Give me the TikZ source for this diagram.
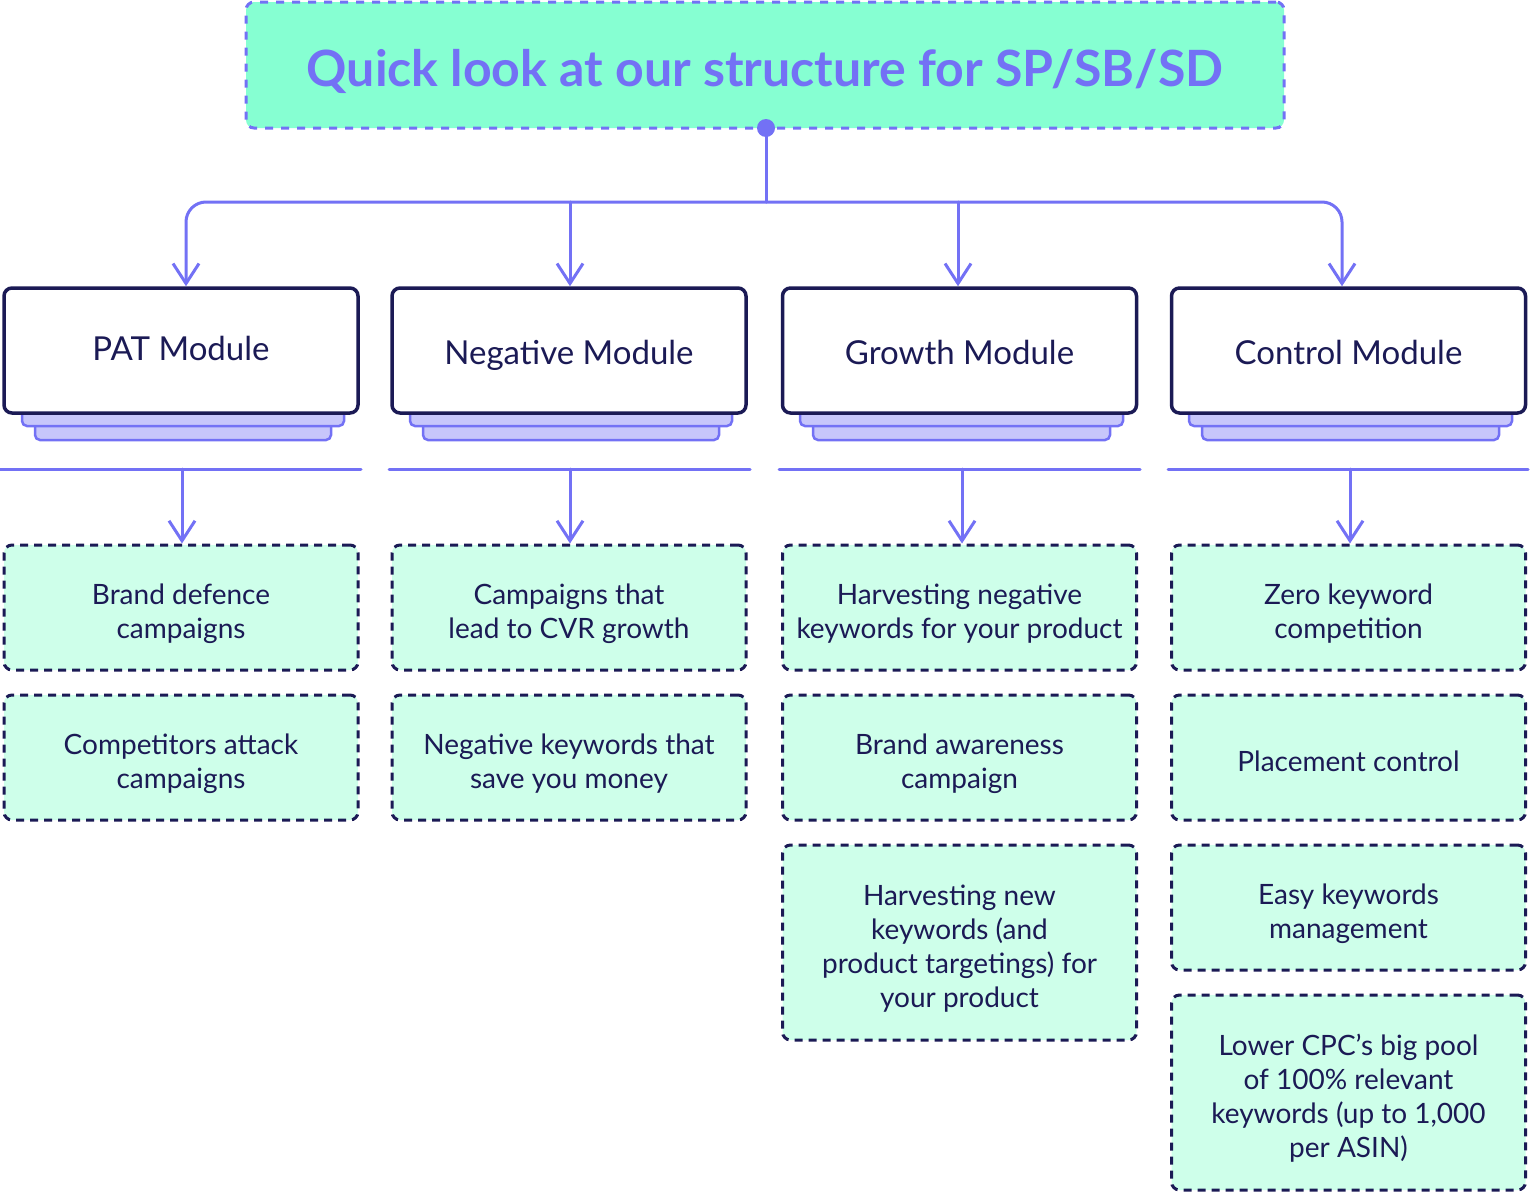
\documentclass[tikz,border=0pt]{standalone}
\usepackage{fontspec}
\setmainfont{Lato}
\usetikzlibrary{arrows.meta,calc}
\definecolor{violetc}{HTML}{7371F5}
\definecolor{mintc}{HTML}{86FFD2}
\definecolor{lmintc}{HTML}{CEFFEA}
\definecolor{navyc}{HTML}{1B1A55}
\definecolor{lavc}{HTML}{C7C6FB}
\newcommand\itop{\rule{0pt}{35pt}}
\newcommand\ibot{\rule[-7pt]{0pt}{7pt}}
\tikzset{
  titlebox/.style={rectangle, rounded corners=8pt, fill=mintc, draw=violetc, line width=3pt, dash pattern=on 8pt off 8pt, minimum width=1038pt, minimum height=126pt, inner sep=0pt, text=violetc, text height=50pt, text depth=8pt, font=\bfseries\fontsize{50}{60}\selectfont},
  modbox/.style={rectangle, draw=navyc, line width=3.5pt, rounded corners=8pt, fill=white, minimum width=354pt, minimum height=125pt, inner sep=0pt, text=navyc, text height=31pt, text depth=4pt, font=\fontsize{33}{38}\selectfont},
  itembox/.style={rectangle, draw=navyc, fill=lmintc, line width=3pt, dash pattern=on 8pt off 6pt, rounded corners=8pt, minimum width=354pt, inner sep=0pt, align=center, text=navyc, font=\fontsize{28}{34}\selectfont},
  plate/.style={draw=violetc, fill=lavc, line width=2.5pt, rounded corners=5pt},
  conn/.style={draw=violetc, line width=3pt, line cap=round},
  tip/.tip={Straight Barb[length=20pt,width=26pt,line width=3pt]},
}
\begin{document}
\begin{tikzpicture}[x=1pt,y=-1pt]
\useasboundingbox (0,0) rectangle (1530,1194);
% title
\node[titlebox] (title) at (765,65) {Quick look at our structure for SP/SB/SD};
% plates
\foreach \xa/\xb in {4/358,392/746,782/1137,1171/1526}{
  \draw[plate] (\xa+31,410) rectangle (\xb-27,440);
  \draw[plate] (\xa+18,405) rectangle (\xb-14,426);
}
% modules
\node[modbox, text height=27pt, text depth=8pt] (pat) at (181,350.5) {PAT Module};
\node[modbox] (neg) at (569,350.5) {Negative Module};
\node[modbox] (gro) at (959.5,350.5) {Growth Module};
\node[modbox] (ctl) at (1348.5,350.5) {Control Module};
% connectors top
\coordinate (dot) at (766,128);
\coordinate (j) at (766,202);
\draw[conn] (dot) -- (j);
\fill[violetc] (dot) circle (9pt);
\draw[conn,-{tip},rounded corners=20pt] (j) -| ([xshift=5pt]pat.north);
\draw[conn,-{tip},rounded corners=20pt] (j) -| ([xshift=-6.5pt]ctl.north);
\draw[conn,-{tip}] ([xshift=1pt]neg.north |- j) -- ([xshift=1pt]neg.north);
\draw[conn,-{tip}] ([xshift=-1.5pt]gro.north |- j) -- ([xshift=-1.5pt]gro.north);
% separators
\coordinate (sa) at (182,469);
\coordinate (sb) at (570,469);
\coordinate (sc) at (962,469);
\coordinate (sd) at (1350,469);
\draw[conn] (0,469) -- (361,469);
\draw[conn] (389,469) -- (750,469);
\draw[conn] (779,469) -- (1140,469);
\draw[conn] (1168,469) -- (1528,469);
% items
\node[itembox, minimum height=125pt] (a1) at (181,607.5) {\itop Brand defence\\campaigns\ibot};
\node[itembox, minimum height=125pt] (a2) at (181,757.5) {\itop Competitors attack\\campaigns\ibot};
\node[itembox, minimum height=125pt] (b1) at (569,607.5) {\itop Campaigns that\\lead to CVR growth\ibot};
\node[itembox, minimum height=125pt] (b2) at (569,757.5) {\itop Negative keywords that\\save you money\ibot};
\node[itembox, minimum height=125pt] (c1) at (959.5,607.5) {\itop Harvesting negative\\keywords for your product\ibot};
\node[itembox, minimum height=125pt] (c2) at (959.5,757.5) {\itop Brand awareness\\campaign\ibot};
\node[itembox, minimum height=195pt] (c3) at (959.5,942.5) {\itop Harvesting new\\keywords (and\\product targetings) for\\your product\ibot};
\node[itembox, minimum height=125pt] (d1) at (1348.5,607.5) {\itop Zero keyword\\competition\ibot};
\node[itembox, minimum height=125pt] (d2) at (1348.5,757.5) {\itop Placement control\ibot};
\node[itembox, minimum height=125pt] (d3) at (1348.5,907.5) {\itop Easy keywords\\management\ibot};
\node[itembox, minimum height=195pt] (d4) at (1348.5,1092.5) {\itop Lower CPC’s big pool\\of 100\% relevant\\keywords (up to 1,000\\per ASIN)\ibot};
% arrows down
\draw[conn,-{tip}] (sa) -- (sa |- a1.north);
\draw[conn,-{tip}] (sb) -- (sb |- b1.north);
\draw[conn,-{tip}] (sc) -- (sc |- c1.north);
\draw[conn,-{tip}] (sd) -- (sd |- d1.north);
\end{tikzpicture}
\end{document}
